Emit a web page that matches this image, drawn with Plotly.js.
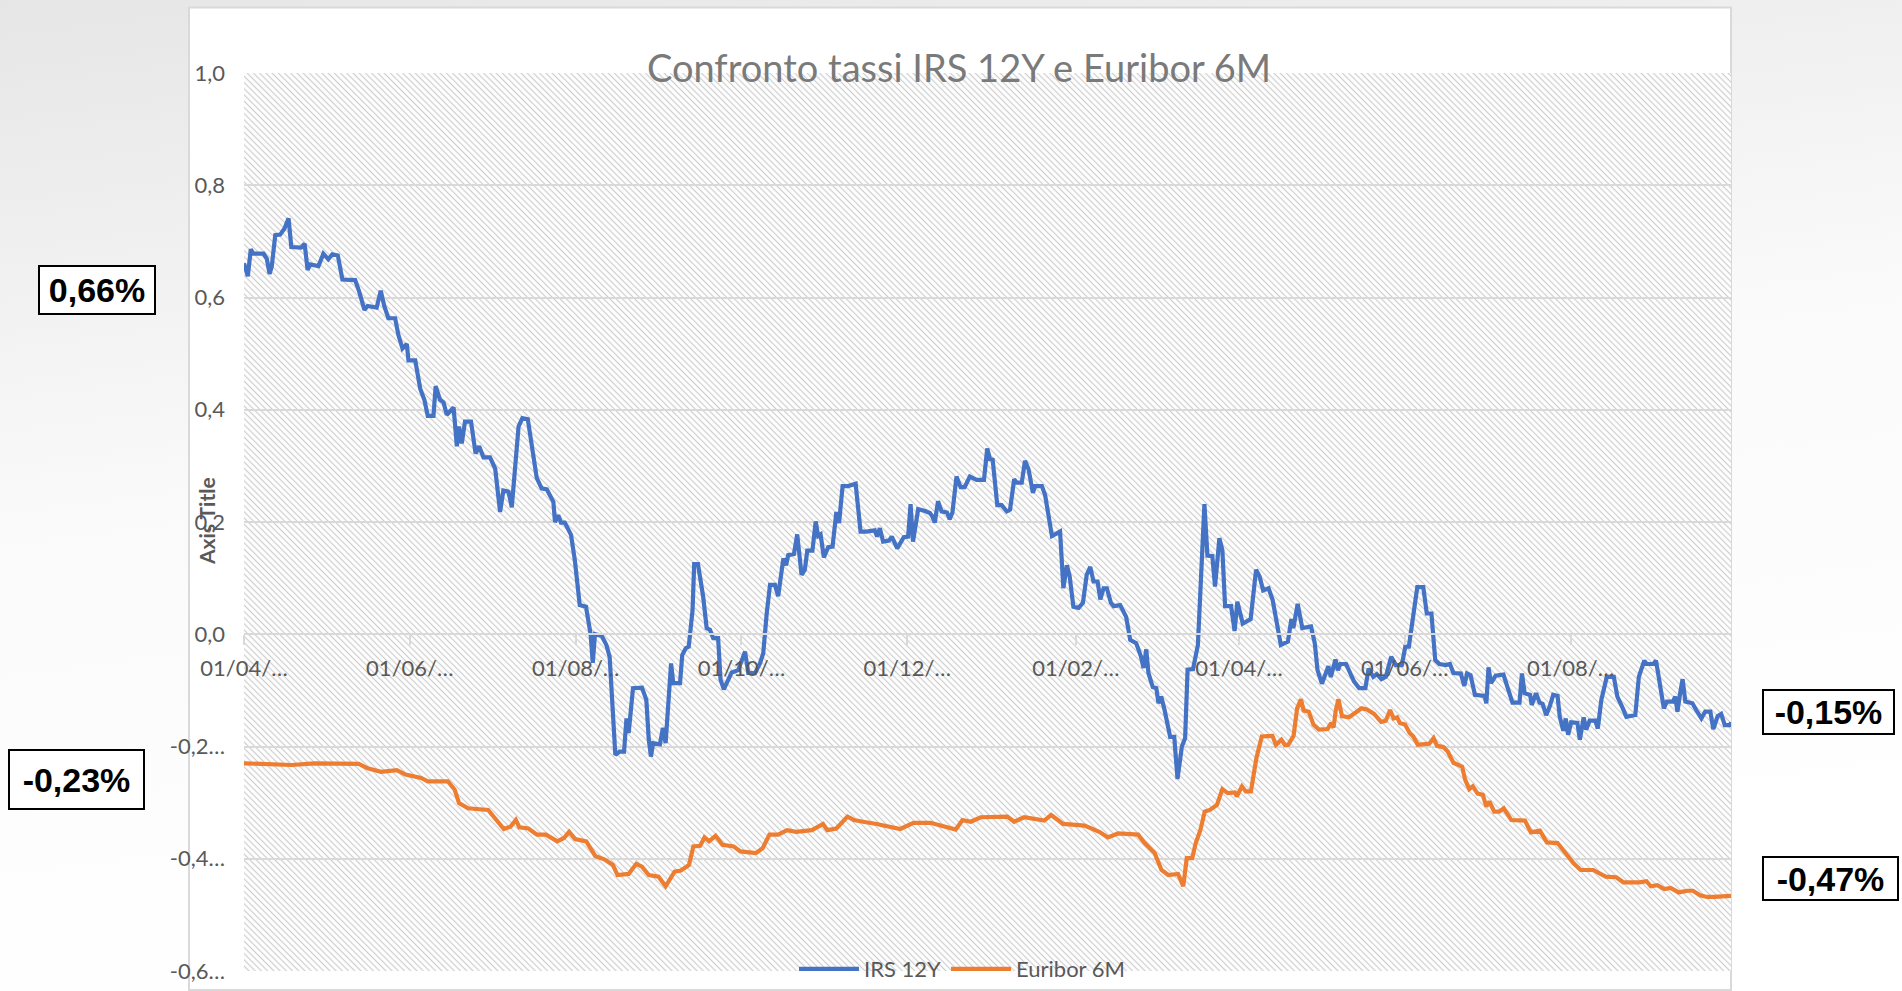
<!DOCTYPE html>
<html>
<head>
<meta charset="utf-8">
<script src="https://cdn.plot.ly/plotly-3.0.1.min.js"></script>
<style>
html,body{margin:0;padding:0;background:#ffffff;overflow:hidden}
#chart{width:1902px;height:991px}
</style>
</head>
<body>
<div id="chart"></div>
<script>
// ---------------- DATA ----------------
const chartTitle = 'Confronto tassi IRS 12Y e Euribor 6M';
const axisTitleText = 'Axis Title';
const seriesNames = ['IRS 12Y', 'Euribor 6M'];
const startDate = '2019-04-01';
const endDayOffset = 547;

// IRS 12Y: day offsets from startDate and values (%)
const irsDays = [
  0,1.4,2.5,3.5,7.2,8.4,9.4,10.2,11.5,13.3,
  14.9,16.4,17.4,21,22.3,23.4,24.3,27.4,29.2,31,
  32.5,34.5,36.2,40.9,42.4,44.3,45.5,48.8,50.3,51.6,
  53.1,55.6,56.8,58.3,59.9,60.5,63,64.8,66.4,67.6,
  69.7,70.5,72.1,73.4,74.6,77.1,78.3,79.1,80.1,81.3,
  83.5,85.2,86.5,88.1,90.5,92.4,94.2,95.4,97.3,98.5,
  101,102.4,104.4,107.7,109.5,111.4,113.8,114.4,115.6,116.6,
  118,120.3,121.7,123,123.5,125.8,126.7,127.5,128.3,129.1,
  131.6,133.3,134.5,135.4,136.6,138.2,139.8,140.7,141.5,143.1,
  146.4,148,148.9,149.7,150.5,153,154.1,155.1,157.1,157.9,
  160.4,161.2,162.5,163.6,165,165.6,167,168.9,170.2,171.4,
  172.6,174.4,175.3,176.5,177.8,179.4,181.8,183,184.3,185.5,
  188,189.8,191,192.3,193.5,195.3,196.5,198.4,199.4,200.2,
  202.3,203.5,205.1,206.3,207.2,209.1,210.3,211.2,212.1,213.3,
  214.9,216.5,217.9,218.9,220.2,222.2,225,226.8,229,232,
  232.9,233.9,235.1,237.3,238.3,240.3,242.7,244.3,245.2,246.1,
  248,250.8,252.3,253.2,254.1,255.3,256.6,258.6,259.6,260.6,
  262.1,263.6,265.1,267,269.5,272.2,273.4,274.4,275.4,277.1,
  278.7,280.6,281.8,283.3,284.3,286.1,287.3,288.6,290.2,291,
  293.5,294.7,295.9,297.2,300.2,301.4,302.7,303.7,305.1,307,
  308.6,310,311.3,312.5,314,315,316.2,317.4,318.9,319.9,
  322.3,324.5,326,328.2,329.9,330.9,331.9,332.7,334.3,335.6,
  336.4,337.4,338.6,340.7,342.2,343.4,345,346.2,347.1,349.1,
  350.9,351.9,353.3,354.4,356.2,357.2,358.8,359.9,360.9,363.1,
  364.4,365.4,367.4,370.3,372.3,373.6,374.9,376.9,378.4,381.4,
  384,385.3,386,387.6,389.3,392.5,393.9,394.9,396.5,398.9,
  399.8,401.5,402.4,403.3,405.4,408.3,410.2,412.5,413.7,415.4,
  416.7,418.4,420,422,423.7,425.9,427.2,428.5,429.9,431.6,
  433.8,435.1,436.8,438.2,439.7,442.1,443.6,444.9,447.6,448.9,
  449.9,451.2,452.8,456.4,457,457.8,458.7,460.4,463.3,465.7,
  466.6,469.2,470.1,471.1,473.1,473.7,475.3,476.6,477.7,479,
  480.3,481.6,483.2,484,485.3,486.2,487.1,488.2,490.5,491.4,
  492.8,493.7,495,497.1,498,499.3,501.3,503.9,505.2,507.2,
  508.5,511.8,513.1,515.1,516,518.4,519.4,520.3,522.3,523.4,
  525.6,526.5,527.3,528.3,529.2,530.2,532.8,534.2,536.1,537.5,
  539.4,540.5,542.1,543.4,544.7,546.7,547
];
const irsValues = [
  0.661,0.638,0.686,0.678,0.678,0.669,0.642,0.655,0.711,0.712,
  0.723,0.741,0.690,0.689,0.696,0.649,0.659,0.656,0.678,0.668,
  0.677,0.675,0.632,0.631,0.610,0.578,0.585,0.582,0.612,0.585,
  0.563,0.563,0.533,0.509,0.517,0.488,0.488,0.438,0.417,0.389,
  0.389,0.442,0.418,0.413,0.391,0.404,0.335,0.370,0.340,0.379,
  0.379,0.322,0.335,0.315,0.315,0.295,0.218,0.256,0.254,0.226,
  0.370,0.385,0.383,0.278,0.260,0.258,0.236,0.200,0.212,0.199,
  0.199,0.177,0.132,0.067,0.052,0.049,0.025,0.000,-0.051,0.000,
  -0.003,-0.019,-0.040,-0.117,-0.215,-0.209,-0.209,-0.150,-0.176,-0.096,
  -0.095,-0.117,-0.188,-0.218,-0.194,-0.196,-0.167,-0.194,-0.052,-0.087,
  -0.087,-0.037,-0.025,-0.022,0.043,0.125,0.125,0.067,0.011,0.008,
  -0.007,-0.007,-0.081,-0.098,-0.084,-0.068,-0.064,-0.046,-0.031,-0.069,
  -0.069,-0.052,-0.034,0.038,0.088,0.088,0.068,0.135,0.123,0.141,
  0.143,0.178,0.106,0.115,0.149,0.149,0.201,0.175,0.178,0.137,
  0.155,0.156,0.218,0.198,0.264,0.264,0.268,0.183,0.183,0.185,
  0.174,0.189,0.165,0.167,0.174,0.153,0.173,0.174,0.232,0.165,
  0.223,0.219,0.216,0.210,0.199,0.237,0.219,0.217,0.205,0.217,
  0.281,0.262,0.262,0.281,0.275,0.275,0.331,0.312,0.311,0.230,
  0.230,0.219,0.222,0.276,0.270,0.270,0.309,0.294,0.252,0.264,
  0.264,0.248,0.216,0.175,0.183,0.082,0.123,0.104,0.049,0.047,
  0.056,0.106,0.120,0.094,0.094,0.062,0.082,0.082,0.056,0.050,
  0.052,0.031,-0.010,-0.016,-0.039,-0.060,-0.027,-0.069,-0.094,-0.096,
  -0.123,-0.111,-0.134,-0.183,-0.183,-0.258,-0.200,-0.185,-0.063,-0.062,
  -0.019,0.097,0.232,0.140,0.139,0.085,0.171,0.150,0.050,0.050,
  0.006,0.058,0.019,0.027,0.115,0.103,0.078,0.082,0.061,-0.019,
  -0.013,0.027,0.011,0.054,0.011,0.014,-0.016,-0.064,-0.088,-0.057,
  -0.076,-0.045,-0.064,-0.053,-0.053,-0.084,-0.096,-0.096,-0.061,-0.076,
  -0.071,-0.080,-0.076,-0.040,-0.055,-0.055,-0.022,-0.022,0.026,0.084,
  0.084,0.037,0.037,-0.046,-0.053,-0.055,-0.053,-0.069,-0.070,-0.092,
  -0.070,-0.073,-0.108,-0.110,-0.123,-0.059,-0.087,-0.074,-0.072,-0.105,
  -0.122,-0.122,-0.070,-0.105,-0.108,-0.126,-0.105,-0.122,-0.124,-0.144,
  -0.129,-0.108,-0.110,-0.147,-0.172,-0.150,-0.179,-0.157,-0.158,-0.188,
  -0.148,-0.170,-0.154,-0.154,-0.168,-0.117,-0.076,-0.076,-0.111,-0.132,
  -0.147,-0.144,-0.076,-0.047,-0.053,-0.053,-0.047,-0.073,-0.132,-0.120,
  -0.120,-0.111,-0.138,-0.105,-0.080,-0.120,-0.123,-0.135,-0.150,-0.138,
  -0.138,-0.169,-0.146,-0.142,-0.162,-0.162,-0.157
];

// Euribor 6M: day offsets from startDate and values (%)
const euriborDays = [
  0,17.6,25.8,32.4,42.2,45.5,50.4,56.2,59.4,65.2,
  67.6,75,77.5,79.1,82.4,89.8,93.1,95.6,98,100,
  101.3,104.6,107.8,111.1,115.2,117.7,119.6,121.8,125.9,129.2,
  132.5,135.7,137.4,141.5,144.3,146.4,148.9,152.5,155.1,158.4,
  160.7,163.7,165.3,167.8,169.4,171.1,173.5,176,180.1,182.6,
  188.3,190.8,193.3,196.5,199.8,203.1,208.9,213,214.6,217.9,
  222,224.4,227.7,232.7,241.4,246.3,252.5,259.9,261.8,264.3,
  267.3,271,280.8,283.3,287,294.4,296.9,301.3,309.2,314.6,
  317.8,321.5,328.9,331.3,335,337.5,340,343.6,345.5,346.8,
  348.8,350.1,351.8,353.4,355.3,357.9,359.9,361.9,364.5,365.2,
  367.1,368.5,370.4,372.4,374.4,378.3,379.6,381.6,382.9,384.1,
  386.1,387.4,388.8,389.8,391.7,393.4,395.4,398.6,399.9,400.8,
  401.6,402.6,403.9,406.5,409.1,411.1,413.1,415.7,418.3,420,
  421.6,422.9,424.2,425.2,427.1,428.8,430.1,431.8,436,437.6,
  438.9,441.2,442.8,444.9,448.1,449.2,450.7,452,453.8,455.7,
  457,458.1,459.9,461.7,463.4,466.2,471.2,473.4,476.7,479.3,
  483.2,486.5,489.1,491.7,496.3,500.9,504.8,507.4,513.3,515.9,
  517.5,519.9,522.5,524.8,527.7,531,533,535.6,538.2,540.8,
  543.5,547
];
const euriborValues = [
  -0.230,-0.233,-0.230,-0.231,-0.231,-0.239,-0.245,-0.242,-0.250,-0.256,
  -0.262,-0.262,-0.277,-0.301,-0.310,-0.313,-0.334,-0.347,-0.343,-0.331,
  -0.344,-0.346,-0.357,-0.357,-0.369,-0.363,-0.352,-0.365,-0.369,-0.395,
  -0.401,-0.411,-0.429,-0.427,-0.409,-0.414,-0.429,-0.432,-0.449,-0.423,
  -0.421,-0.411,-0.378,-0.377,-0.362,-0.369,-0.359,-0.375,-0.378,-0.387,
  -0.390,-0.381,-0.357,-0.357,-0.349,-0.352,-0.349,-0.338,-0.349,-0.346,
  -0.325,-0.331,-0.334,-0.338,-0.347,-0.336,-0.336,-0.345,-0.348,-0.331,
  -0.334,-0.326,-0.325,-0.334,-0.326,-0.332,-0.322,-0.338,-0.341,-0.352,
  -0.362,-0.355,-0.357,-0.372,-0.390,-0.420,-0.429,-0.427,-0.449,-0.399,
  -0.399,-0.372,-0.349,-0.316,-0.313,-0.304,-0.276,-0.283,-0.282,-0.289,
  -0.271,-0.280,-0.280,-0.221,-0.182,-0.181,-0.197,-0.188,-0.197,-0.197,
  -0.181,-0.132,-0.116,-0.136,-0.138,-0.161,-0.170,-0.169,-0.158,-0.166,
  -0.136,-0.116,-0.146,-0.148,-0.138,-0.132,-0.134,-0.142,-0.156,-0.154,
  -0.135,-0.150,-0.148,-0.158,-0.161,-0.176,-0.182,-0.197,-0.195,-0.185,
  -0.199,-0.201,-0.209,-0.229,-0.236,-0.259,-0.276,-0.271,-0.284,-0.286,
  -0.307,-0.298,-0.316,-0.316,-0.310,-0.331,-0.332,-0.353,-0.350,-0.371,
  -0.372,-0.393,-0.408,-0.420,-0.420,-0.432,-0.433,-0.442,-0.442,-0.440,
  -0.449,-0.447,-0.454,-0.452,-0.460,-0.457,-0.457,-0.465,-0.468,-0.468,
  -0.467,-0.466
];

const xTickDates = ['2019-04-01','2019-06-01','2019-08-01','2019-10-01','2019-12-01','2020-02-01','2020-04-01','2020-06-01','2020-08-01'];
const xTickLabels = ['01/04/…','01/06/…','01/08/…','01/10/…','01/12/…','01/02/…','01/04/…','01/06/…','01/08/…'];
const yTickValues = [-0.6,-0.4,-0.2,0,0.2,0.4,0.6,0.8,1.0];
const yTickLabels = ['-0,6…','-0,4…','-0,2…','0,0','0,2','0,4','0,6','0,8','1,0'];
const boxLabels = ['0,66%','-0,23%','-0,15%','-0,47%'];

// ---------------- LAYOUT HELPERS ----------------
const W = 1902, H = 991;
const M = {l:244, r:171, t:73, b:20};
const PW = W - M.l - M.r, PH = H - M.t - M.b;
const px2x = px => (px - M.l) / PW;
const py2y = py => (H - M.b - py) / PH;

const t0 = new Date(startDate + 'T00:00:00Z').getTime();
function dayToDate(d) {
  const dt = new Date(t0 + d * 86400000);
  return dt.toISOString().replace('T', ' ').slice(0, 19);
}
const irsX = irsDays.map(dayToDate);
const eurX = euriborDays.map(dayToDate);

// background (slide gradient + chart frame) and hatched plot area
const bgSvg = '<svg xmlns="http://www.w3.org/2000/svg" width="1902" height="991" viewBox="0 0 1902 991" preserveAspectRatio="none">' +
  '<defs><linearGradient id="g" x1="0" y1="0" x2="0.25" y2="1">' +
  '<stop offset="0" stop-color="#e6e6e6"/><stop offset="0.5" stop-color="#fafafa"/><stop offset="1" stop-color="#ffffff"/>' +
  '</linearGradient></defs>' +
  '<rect width="1902" height="991" fill="url(#g)"/>' +
  '<rect x="189" y="7.5" width="1542" height="982.5" fill="#ffffff" stroke="#d9d9d9" stroke-width="2"/></svg>';
const hatchSvg = '<svg xmlns="http://www.w3.org/2000/svg" width="' + PW + '" height="' + PH + '" viewBox="0 0 ' + PW + ' ' + PH + '" preserveAspectRatio="none">' +
  '<defs><pattern id="h" width="4.4" height="4.4" patternUnits="userSpaceOnUse" patternTransform="rotate(-45)">' +
  '<line x1="2.2" y1="-1" x2="2.2" y2="5.4" stroke="#cdcdcd" stroke-width="1.2"/></pattern></defs>' +
  '<rect width="' + PW + '" height="' + PH + '" fill="#ffffff"/>' +
  '<rect width="' + PW + '" height="' + PH + '" fill="url(#h)"/></svg>';
const svgUri = s => 'data:image/svg+xml;charset=utf-8,' + encodeURIComponent(s);

const FONT = "Lato, 'Open Sans', sans-serif";
const GRID = '#d9d9d9';
const TXT = '#595959';

const traces = [
  {x: irsX, y: irsValues, name: seriesNames[0], type: 'scatter', mode: 'lines',
   line: {color: '#4472C4', width: 4.2}},
  {x: eurX, y: euriborValues, name: seriesNames[1], type: 'scatter', mode: 'lines',
   line: {color: '#ED7D31', width: 4.2}}
];

// label boxes: centre pixel positions and outer sizes
const boxSpecs = [
  {cx: 96.7, cy: 290, w: 118, h: 50},
  {cx: 76.5, cy: 779.5, w: 137, h: 61},
  {cx: 1828.3, cy: 712, w: 133, h: 46},
  {cx: 1830, cy: 878.5, w: 137, h: 45}
];
const annotations = boxSpecs.map((b, i) => ({
  text: '<b>' + boxLabels[i] + '</b>', xref: 'paper', yref: 'paper',
  x: px2x(b.cx), y: py2y(b.cy), xanchor: 'center', yanchor: 'middle',
  showarrow: false, width: b.w - 4, height: b.h - 4, borderpad: 0,
  bordercolor: '#000000', borderwidth: 2, bgcolor: '#ffffff',
  font: {family: "'Liberation Sans', Arial, sans-serif", size: 34, color: '#000000'}
}));
annotations.push({
  text: '<b>' + axisTitleText + '</b>', xref: 'paper', yref: 'paper',
  x: px2x(206.5), y: py2y(521.5), xanchor: 'center', yanchor: 'middle',
  textangle: -90, showarrow: false,
  font: {family: FONT, size: 21, color: TXT}
});

const layout = {
  width: W, height: H, autosize: false,
  margin: {l: M.l, r: M.r, t: M.t, b: M.b, pad: 0, autoexpand: false},
  paper_bgcolor: '#ffffff', plot_bgcolor: 'rgba(0,0,0,0)',
  title: {text: chartTitle, font: {family: FONT, size: 38, color: '#7a7a7a'},
          xref: 'container', yref: 'container', x: 959 / W, xanchor: 'center', y: 1 - 68.5 / H, yanchor: 'middle'},
  showlegend: true,
  legend: {orientation: 'h', x: px2x(962), xanchor: 'center', y: py2y(969), yanchor: 'middle',
           font: {family: FONT, size: 22, color: TXT}, bgcolor: 'rgba(0,0,0,0)', itemwidth: 60},
  xaxis: {type: 'date', range: [dayToDate(0), dayToDate(endDayOffset)],
          anchor: 'free', position: 0.6 / 1.6,
          tickmode: 'array', tickvals: xTickDates, ticktext: xTickLabels,
          showgrid: false, zeroline: false, showline: true, linecolor: GRID, linewidth: 2,
          ticks: 'outside', ticklen: 10, tickwidth: 2, tickcolor: GRID, ticklabelstandoff: 4,
          tickfont: {family: FONT, size: 22, color: TXT}, fixedrange: true},
  yaxis: {range: [-0.6, 1.0], tickmode: 'array', tickvals: yTickValues, ticktext: yTickLabels,
          showgrid: true, gridcolor: GRID, gridwidth: 2, zeroline: false, showline: false,
          ticks: '', ticklabelstandoff: 18,
          tickfont: {family: FONT, size: 22, color: TXT}, fixedrange: true},
  images: [
    {source: svgUri(bgSvg), xref: 'paper', yref: 'paper', x: px2x(0), y: py2y(0),
     sizex: W / PW, sizey: H / PH, xanchor: 'left', yanchor: 'top', sizing: 'stretch', layer: 'below'},
    {source: svgUri(hatchSvg), xref: 'paper', yref: 'paper', x: 0, y: 1,
     sizex: 1, sizey: 1, xanchor: 'left', yanchor: 'top', sizing: 'stretch', layer: 'below'}
  ],
  annotations: annotations
};

Plotly.newPlot('chart', traces, layout, {displayModeBar: false, staticPlot: true});
</script>
</body>
</html>
